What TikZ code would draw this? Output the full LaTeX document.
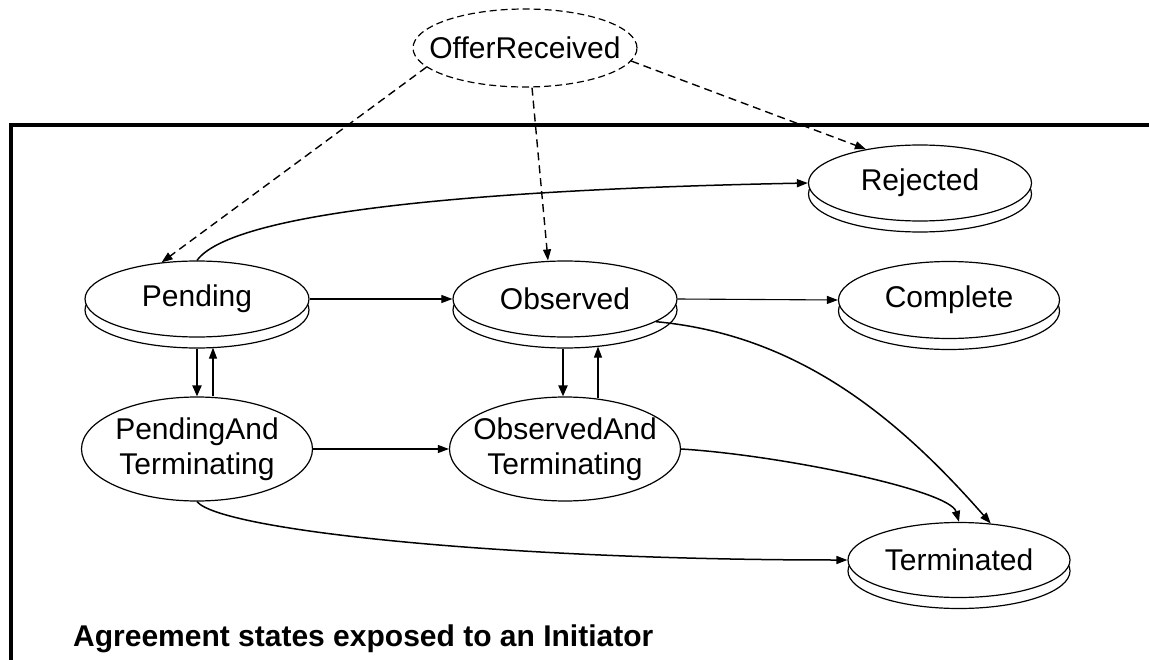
\documentclass[tikz,border=0pt]{standalone}
\usepackage{fontspec}
\setmainfont{Liberation Sans}
\usetikzlibrary{arrows.meta,shapes.geometric,shadows}
\begin{document}
\begin{tikzpicture}[x=1bp,y=-1bp,
  state/.style={ellipse,draw,line width=1.2bp,fill=white,inner ysep=0pt,inner xsep=-40bp,
    font=\fontsize{30bp}{35bp}\selectfont,align=center},
  stackstate/.style={state,general shadow={draw,fill=white,line width=1.2bp,shadow yshift=-11bp}},
  offerstate/.style={state,dash pattern=on 7bp off 4bp},
  arr/.style={line width=1.5bp,-{Triangle[length=11bp,width=8bp]}},
  thinarr/.style={line width=1.1bp,-{Triangle[length=11bp,width=8bp]}},
  thickarr/.style={line width=2.2bp,-{Triangle[length=11bp,width=9bp]}},
  dasharr/.style={line width=1.4bp,dash pattern=on 8bp off 5bp,-{Triangle[length=11bp,width=8bp]}},
  frameline/.style={line width=4bp}
]
\useasboundingbox (0,0) rectangle (1149,660);
\fill[white] (0,0) rectangle (1149,660);

% frame
\draw[frameline] (10.5,670) -- (10.5,125) -- (1160,125);

% states
\node[offerstate,minimum width=224bp,minimum height=78bp] (Offer) at (525,48) {OfferReceived};
\node[stackstate,minimum width=224bp,minimum height=76bp] (Pending) at (197,299) {Pending};
\node[stackstate,minimum width=224bp,minimum height=76bp] (Observed) at (565,299) {Observed};
\node[stackstate,minimum width=221bp,minimum height=77bp] (Complete) at (949,300) {Complete};
\node[stackstate,minimum width=223bp,minimum height=76bp] (Rejected) at (920,183) {Rejected};
\node[stackstate,minimum width=222bp,minimum height=75bp] (Terminated) at (959,560) {Terminated};
\node[state,minimum width=231bp,minimum height=104bp] (PAT) at (197,449) {PendingAnd\\Terminating};
\node[state,minimum width=231bp,minimum height=104bp] (OAT) at (565,449) {ObservedAnd\\Terminating};

% dashed transitions from OfferReceived
\draw[dasharr] (Offer.191) -- (Pending.134);
\draw[dasharr] ([xshift=7bp]Offer.south) -- ([xshift=-17bp]Observed.north);
\draw[dasharr] (Offer.-7) -- (Rejected.148);

% transitions
\draw[arr] (Pending.north) .. controls (230,215) and (450,190) .. (Rejected.west);
\draw[thinarr] (Pending.east) -- (Observed.west);
\draw[thinarr] (Observed.east) -- (Complete.west);
\draw[thickarr] ([yshift=-11bp]Pending.south) -- (PAT.north);
\draw[thinarr] ([xshift=16bp]PAT.north) -- ([xshift=16bp,yshift=-10bp]Pending.south);
\draw[thickarr] ([xshift=-2bp,yshift=-11bp]Observed.south) -- ([xshift=-2bp]OAT.north);
\draw[thinarr] ([xshift=33bp,yshift=-2bp]OAT.north) -- ([xshift=33bp,yshift=-9bp]Observed.south);
\draw[thinarr] (PAT.east) -- (OAT.west);
\draw[arr] (Observed.-14) .. controls (800,335) and (900,420) .. (Terminated.49);
\draw[arr] (OAT.east) .. controls (780,455) and (950,490) .. (Terminated.north);
\draw[arr] (PAT.south) .. controls (220,530) and (500,560) .. (Terminated.west);

% caption
\node[anchor=base west,inner sep=0pt,font=\bfseries\fontsize{30bp}{36bp}\selectfont] (caption) at (73,646) {Agreement states exposed to an Initiator};
\end{tikzpicture}
\end{document}
